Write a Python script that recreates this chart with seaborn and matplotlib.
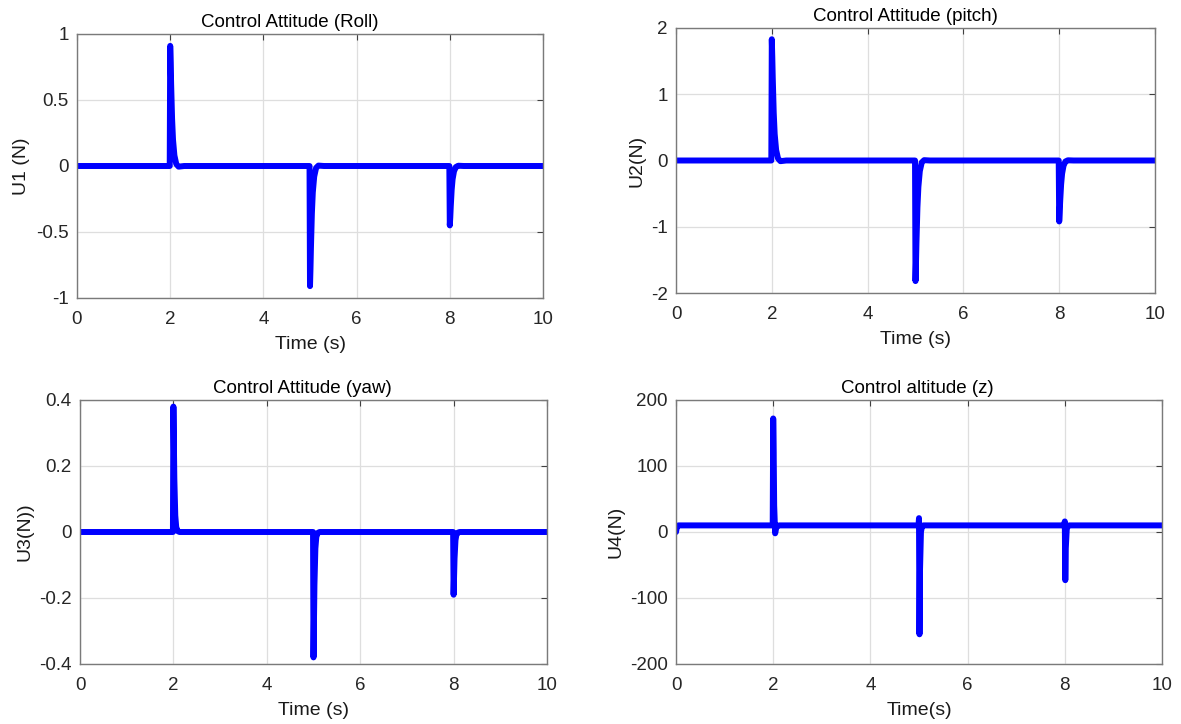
import numpy as np
import pandas as pd
import seaborn as sns
from matplotlib import pyplot as plt

# time stamps (s) around the three steps at t = 2, 5 and 8
time = [0, 0.02, 0.05, 1.99, 2.0, 2.01, 2.02, 2.04, 2.06, 2.09, 2.13, 2.18, 2.3,
        4.99, 5.0, 5.01, 5.02, 5.04, 5.06, 5.09, 5.13, 5.18, 5.3,
        7.99, 8.0, 8.01, 8.02, 8.04, 8.06, 8.09, 8.13, 8.18, 8.3, 10]

u1_roll = [0, 0, 0, 0, 0.91, 0.78, 0.62, 0.36, 0.2, 0.08, 0.015, -0.005, 0,
           0, -0.91, -0.78, -0.62, -0.36, -0.2, -0.08, -0.015, 0.003, 0,
           0, -0.45, -0.39, -0.31, -0.18, -0.1, -0.04, -0.008, 0.002, 0, 0]

u2_pitch = [0, 0, 0, 0, 1.83, 1.56, 1.24, 0.72, 0.4, 0.16, 0.03, -0.01, 0,
            0, -1.82, -1.55, -1.23, -0.71, -0.4, -0.16, -0.03, 0.005, 0,
            0, -0.92, -0.78, -0.62, -0.36, -0.2, -0.08, -0.015, 0.003, 0, 0]

u3_yaw = [0, 0, 0, 0, 0.38, 0.27, 0.16, 0.05, 0.015, 0.003, 0, 0, 0,
          0, -0.38, -0.27, -0.16, -0.05, -0.015, -0.003, 0, 0, 0,
          0, -0.19, -0.135, -0.08, -0.025, -0.008, -0.002, 0, 0, 0, 0]

u4_z = [0, 8, 10, 10, 172, 120, 40, -2, 6, 9.5, 10, 10, 10,
        10, 21, -155, -60, 0, 8, 10, 10, 10, 10,
        10, 16, -73, -25, 4, 9, 10, 10, 10, 10, 10]

titles = ['Control Attitude (Roll)', 'Control Attitude (pitch)',
          'Control Attitude (yaw)', 'Control altitude (z)']
ylabels = ['U1 (N)', 'U2(N)', 'U3(N))', 'U4(N)']
xlabels = ['Time (s)', 'Time (s)', 'Time (s)', 'Time(s)']
ylims = [(-1, 1), (-2, 2), (-0.4, 0.4), (-200, 200)]
yticks = [[-1, -0.5, 0, 0.5, 1], [-2, -1, 0, 1, 2],
          [-0.4, -0.2, 0, 0.2, 0.4], [-200, -100, 0, 100, 200]]
ytick_labels = [['-1', '-0.5', '0', '0.5', '1'], ['-2', '-1', '0', '1', '2'],
                ['-0.4', '-0.2', '0', '0.2', '0.4'], ['-200', '-100', '0', '100', '200']]

df = pd.DataFrame({'t': time, 'U1': u1_roll, 'U2': u2_pitch, 'U3': u3_yaw, 'U4': u4_z})

sns.set_style('white')
plt.rcParams['font.family'] = ['Liberation Sans', 'DejaVu Sans']

W, H = 1181, 724
fig = plt.figure(figsize=(W / 100, H / 100), dpi=100)
# axes boxes in pixels: left, right, top, bottom
boxes = [(77, 543, 34, 298), (676, 1155, 28, 293), (80, 547, 400, 664), (676, 1162, 400, 664)]
title_x = [0.457, 0.478, 0.476, 0.496]

for i, col in enumerate(['U1', 'U2', 'U3', 'U4']):
    l, r, t, b = boxes[i]
    ax = fig.add_axes([l / W, 1 - b / H, (r - l) / W, (b - t) / H])
    sns.lineplot(data=df, x='t', y=col, ax=ax, color='#0000ff', linewidth=4.3,
                 solid_capstyle='round', solid_joinstyle='round')
    ax.set_xlim(0, 10)
    ax.set_ylim(*ylims[i])
    ax.set_xticks([0, 2, 4, 6, 8, 10])
    ax.set_yticks(yticks[i])
    ax.set_yticklabels(ytick_labels[i])
    ax.grid(True, color='#dedede', linewidth=0.9)
    ax.set_axisbelow(True)
    for s in ax.spines.values():
        s.set_color('#7a7a7a')
        s.set_linewidth(1.0)
    ax.tick_params(direction='in', top=True, right=True, length=4, width=0.8,
                   color='#404040', labelsize=13.5, labelcolor='#262626')
    ax.tick_params(axis='x', pad=9)
    ax.tick_params(axis='y', pad=6)
    ax.set_title(titles[i], fontsize=13.5, color='black', pad=5, x=title_x[i])
    ax.set_xlabel(xlabels[i], fontsize=14, labelpad=6, color='#1a1a1a')
    ax.set_ylabel(ylabels[i], fontsize=14, labelpad=4, color='#1a1a1a')

fig.savefig('out.png', dpi=100)
